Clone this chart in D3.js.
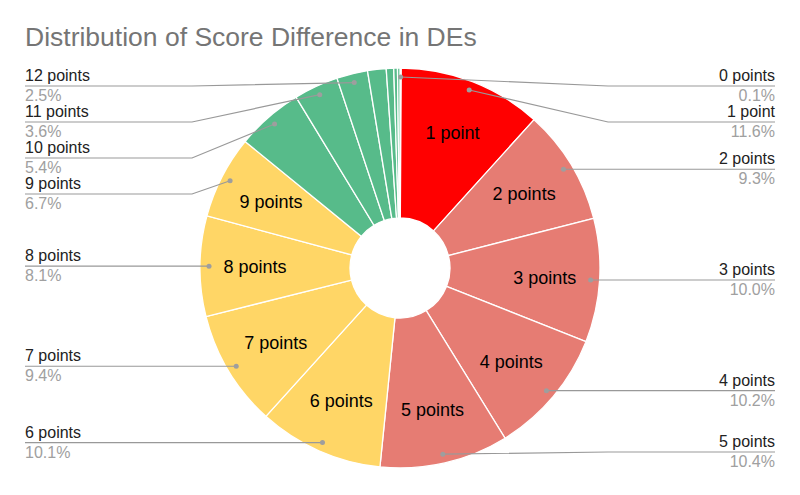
<!DOCTYPE html>
<html>
<head>
<meta charset="utf-8">
<script src="https://cdn.jsdelivr.net/npm/d3@7"></script>
<style>
  body { margin: 0; background: #fff; }
  text { font-family: "Liberation Sans", Arial, sans-serif; }
</style>
</head>
<body>
<div id="chart"></div>
<script>
// score difference categories, in drawing order (clockwise from 12 o'clock)
var categories = ["0 points", "1 point", "2 points", "3 points", "4 points", "5 points",
    "6 points", "7 points", "8 points", "9 points", "10 points", "11 points", "12 points",
    "13 points", "14 points", "15 points", "16 points"];
// share of DEs, in percent
var shares = [0.1, 11.6, 9.3, 10.0, 10.2, 10.4, 10.1, 9.4, 8.1, 6.7, 5.4, 3.6, 2.5, 1.5, 0.6, 0.3, 0.2];
// only these get a callout label
var labelled = categories.slice(0, 13);

var w = 800, h = 495,
    cx = 400, cy = 268,
    outerR = 200, innerR = 50;

function sliceColor(i) {
    if (i === 1) return "#ff0000";
    if (i >= 2 && i <= 5) return "#e67c73";
    if (i >= 6 && i <= 9) return "#ffd666";
    return "#57bb8a";
}

var svg = d3.select("#chart").append("svg")
    .attr("width", w)
    .attr("height", h);

svg.append("text")
    .attr("x", 25)
    .attr("y", 46)
    .attr("font-size", 26.5)
    .attr("fill", "#757575")
    .text("Distribution of Score Difference in DEs");

var total = d3.sum(shares);
var pie = d3.pie().sort(null).value(function (d) { return d; });
var arcs = pie(shares);

var arc = d3.arc().innerRadius(innerR).outerRadius(outerR);
var textArc = d3.arc().innerRadius(145).outerRadius(145);
var dotArc = d3.arc().innerRadius(191).outerRadius(191);

var g = svg.append("g").attr("transform", "translate(" + cx + "," + cy + ")");

g.selectAll("path.slice").data(arcs).enter()
    .append("path")
    .attr("class", "slice")
    .attr("d", arc)
    .attr("fill", function (d, i) { return sliceColor(i); })
    .attr("stroke", "#fff")
    .attr("stroke-width", 1.3);

// text inside the big slices
g.selectAll("text.inside").data(arcs.filter(function (d) { return d.data > 6; })).enter()
    .append("text")
    .attr("class", "inside")
    .attr("transform", function (d) { return "translate(" + textArc.centroid(d) + ")"; })
    .attr("text-anchor", "middle")
    .attr("dy", "0.36em")
    .attr("font-size", 18)
    .attr("fill", "#000")
    .text(function (d) { return categories[d.index]; });

// callouts: work out line heights per side, pushing down to avoid overlap
var callouts = arcs.slice(0, labelled.length).map(function (d) {
    var p = dotArc.centroid(d);
    var mid = (d.startAngle + d.endAngle) / 2;
    return { d: d, x: cx + p[0], y: cy + p[1], right: mid < Math.PI };
});

var gap = 36, topY = 86, bottomY = 452;
function layout(list) {
    var prev = -Infinity;
    list.sort(function (a, b) { return a.y - b.y; });
    list.forEach(function (c) {
        c.ly = Math.max(c.y, prev + gap, topY);
        prev = c.ly;
    });
    // pull back up from the bottom
    var next = Infinity;
    for (var i = list.length - 1; i >= 0; i--) {
        list[i].ly = Math.min(list[i].ly, next - gap, bottomY);
        next = list[i].ly;
    }
}
layout(callouts.filter(function (c) { return c.right; }));
layout(callouts.filter(function (c) { return !c.right; }));

var lab = svg.append("g");
callouts.forEach(function (c) {
    var elbowX = c.right ? cx + outerR + 8 : cx - outerR - 8;
    var endX = c.right ? 775 : 25;
    lab.append("polyline")
        .attr("points", [[c.x, c.y], [elbowX, c.ly], [endX, c.ly]].join(" "))
        .attr("fill", "none")
        .attr("stroke", "#999")
        .attr("stroke-width", 1.2);
    lab.append("circle")
        .attr("cx", c.x)
        .attr("cy", c.y)
        .attr("r", 2.5)
        .attr("fill", "#9e9e9e");
    lab.append("text")
        .attr("x", endX)
        .attr("y", c.ly - 5)
        .attr("text-anchor", c.right ? "end" : "start")
        .attr("font-size", 16)
        .attr("fill", "#222")
        .text(categories[c.d.index]);
    lab.append("text")
        .attr("x", endX)
        .attr("y", c.ly + 15)
        .attr("text-anchor", c.right ? "end" : "start")
        .attr("font-size", 16)
        .attr("fill", "#a0a0a0")
        .text((c.d.data / total * 100).toFixed(1) + "%");
});
</script>
</body>
</html>
